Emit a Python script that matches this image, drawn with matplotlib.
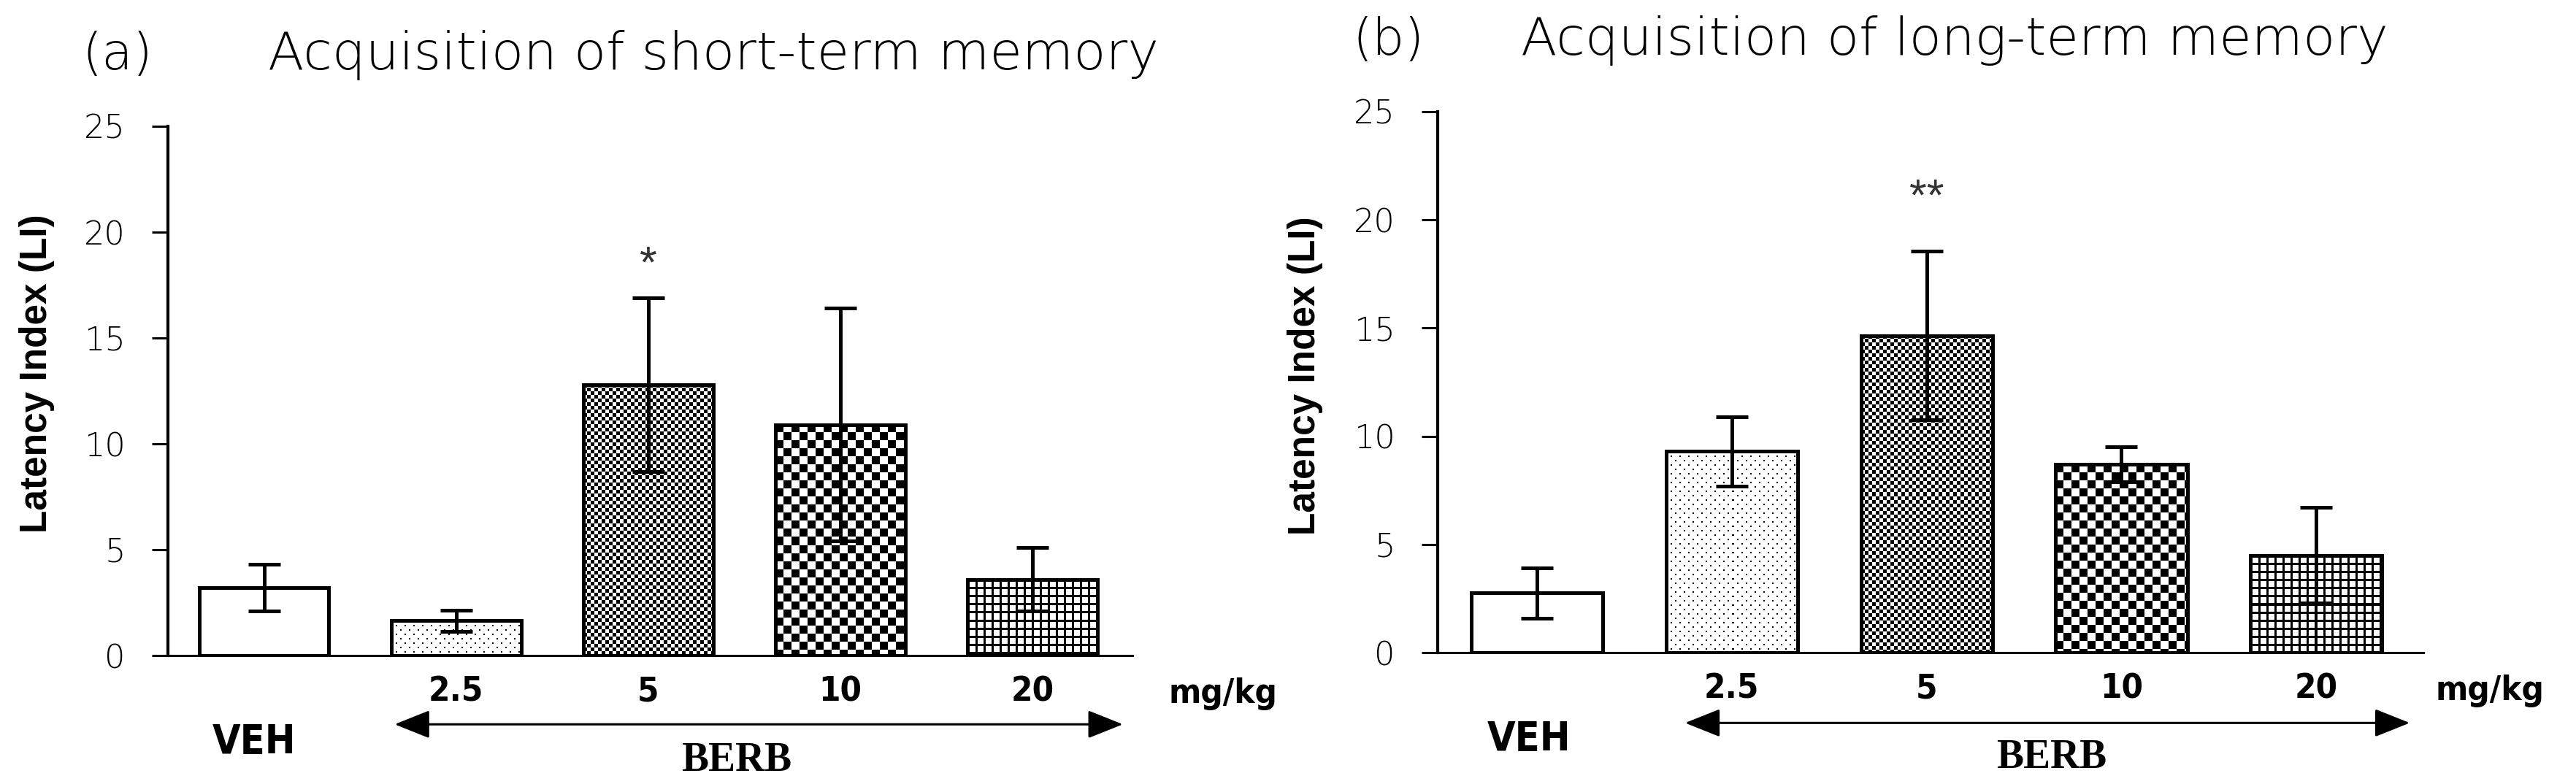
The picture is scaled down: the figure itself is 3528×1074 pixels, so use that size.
import numpy as np
import matplotlib.pyplot as plt

# data
groups = ['VEH', '2.5', '5', '10', '20']
dose_labels = ['', '2.5', '5', '10', '20']
short_mean = [3.2, 1.65, 12.8, 10.9, 3.6]
short_sem = [1.1, 0.5, 4.1, 5.5, 1.5]
long_mean = [2.75, 9.3, 14.65, 8.7, 4.5]
long_sem = [1.15, 1.6, 3.9, 0.8, 2.2]
fills = ['none', 'dots', 'fine', 'coarse', 'grid']

W, H, DPI = 3528, 1074, 200
sans = ['Liberation Sans', 'DejaVu Sans']
wide = ['DejaVu Sans']
narrow = ['Liberation Sans Narrow', 'DejaVu Sans Condensed', 'DejaVu Sans']
serif = ['Liberation Serif', 'DejaVu Serif']


def pattern(kind, h, w):
    yy, xx = np.mgrid[0:h, 0:w]
    if kind == 'dots':
        row = yy // 6
        m = (yy % 6 < 2) & ((xx + (row % 2) * 6) % 12 < 2)
    elif kind == 'fine':
        m = ((xx // 5) + (yy // 5)) % 2 == 0
    elif kind == 'coarse':
        m = ((xx // 11) + (yy // 11)) % 2 == 0
    elif kind == 'grid':
        m = (xx % 11 < 3) | (yy % 11 < 3)
    else:
        m = np.zeros((h, w), bool)
    img = np.zeros((h, w, 4))
    img[m] = [0, 0, 0, 1]
    return img


def panel(ax, means, sems, xlim, star, star_y, veh_x, berb_x, arrow, unit_x, arrow_y):
    x = np.arange(len(means))
    ax.set_xlim(*xlim)
    ax.set_ylim(0, 25)
    bars = ax.bar(x, means, 0.675, color='white', edgecolor='none', zorder=1)
    for b, kind in zip(bars, fills):
        if kind == 'none':
            continue
        x0, y0 = b.get_x(), 0
        x1, y1 = x0 + b.get_width(), b.get_height()
        p = ax.transData.transform([(x0, y0), (x1, y1)])
        pw = max(int(round(p[1, 0] - p[0, 0])), 1)
        ph = max(int(round(p[1, 1] - p[0, 1])), 1)
        im = ax.imshow(pattern(kind, ph, pw), extent=(x0, x1, y0, y1),
                       aspect='auto', interpolation='nearest', zorder=2)
        im.set_clip_path(b)
    ax.bar(x, means, 0.675, fill=False, edgecolor='black', linewidth=1.8, zorder=2.5)
    # lower half sits under the fill, upper half on top
    ax.errorbar(x, means, yerr=[sems, [0] * len(sems)], fmt='none', ecolor='black',
                elinewidth=1.8, capsize=8, capthick=1.8, zorder=1.5)
    ax.errorbar(x, means, yerr=[[0] * len(sems), sems], fmt='none', ecolor='black',
                elinewidth=1.8, capsize=8, capthick=1.8, zorder=3)
    ax.set_xlim(*xlim)
    ax.set_ylim(0, 25)

    ax.text(2, star_y, star, ha='center', va='center', fontsize=22,
            color='#333333', family=sans)

    for s in ['top', 'right']:
        ax.spines[s].set_visible(False)
    ax.spines['left'].set_linewidth(1.5)
    ax.spines['bottom'].set_linewidth(1.1)
    ax.set_yticks(range(0, 26, 5))
    ax.tick_params(axis='y', length=8, width=1.1, pad=13, labelsize=16)
    for t in ax.get_yticklabels():
        t.set_family(wide)
        t.set_fontweight('light')
    ax.set_xticks(x)
    ax.set_xticklabels(dose_labels, fontsize=17, fontweight='bold', family=narrow,
                       fontstretch='condensed')
    ax.tick_params(axis='x', length=0, pad=10)

    tr = ('data', 'axes fraction')
    ax.annotate(groups[0], xy=(veh_x, 0), xycoords=tr, xytext=(0, -43),
                textcoords='offset points', ha='center', va='center',
                fontsize=20, fontweight='bold', family=narrow,
                fontstretch='condensed', annotation_clip=False)
    ax.annotate('BERB', xy=(berb_x, 0), xycoords=tr, xytext=(0, -52),
                textcoords='offset points', ha='center', va='center',
                fontsize=20, fontweight='bold', family=serif, annotation_clip=False)
    ax.annotate('mg/kg', xy=(unit_x, 0), xycoords=tr, xytext=(0, -19),
                textcoords='offset points', ha='left', va='center',
                fontsize=17, fontweight='bold', family=narrow,
                fontstretch='condensed', annotation_clip=False)
    ax.annotate('', xy=(arrow[1], arrow_y), xytext=(arrow[0], arrow_y), xycoords=tr,
                arrowprops=dict(arrowstyle='<|-|>,head_length=15,head_width=6',
                                mutation_scale=1, lw=1.1, color='black',
                                shrinkA=0, shrinkB=0),
                annotation_clip=False)


fig = plt.figure(figsize=(W / DPI, H / DPI), dpi=DPI)
ax1 = fig.add_axes([230 / W, 1 - 898 / H, 1321 / W, 725 / H])
ax2 = fig.add_axes([1969 / W, 1 - 894 / H, 1350 / W, 741 / H])

panel(ax1, short_mean, short_sem, (-0.5, 4.52), '*', 18.4, -0.05, 2.46,
      (0.68, 4.47), 4.71, -0.13)
panel(ax2, long_mean, long_sem, (-0.51, 4.55), '**', 21.0, -0.04, 2.64,
      (0.76, 4.48), 4.61, -0.13)

fig.text(112 / W, 1 - 95 / H, '(a)', fontsize=25, family=wide, fontweight='light',
         va='baseline')
fig.text(367 / W, 1 - 95 / H, 'Acquisition of short-term memory', fontsize=26,
         family=wide, fontweight='light', va='baseline')
fig.text(1852 / W, 1 - 75 / H, '(b)', fontsize=25, family=wide, fontweight='light',
         va='baseline')
fig.text(2083 / W, 1 - 75 / H, 'Acquisition of long-term memory', fontsize=26,
         family=wide, fontweight='light', va='baseline')

fig.text(51 / W, 1 - 512 / H, 'Latency Index (LI)', rotation=90, fontsize=18.5,
         fontweight='bold', family=sans, ha='center', va='center')
fig.text(1788 / W, 1 - 515 / H, 'Latency Index (LI)', rotation=90, fontsize=18.5,
         fontweight='bold', family=sans, ha='center', va='center')

fig.savefig('out.png', dpi=DPI)
